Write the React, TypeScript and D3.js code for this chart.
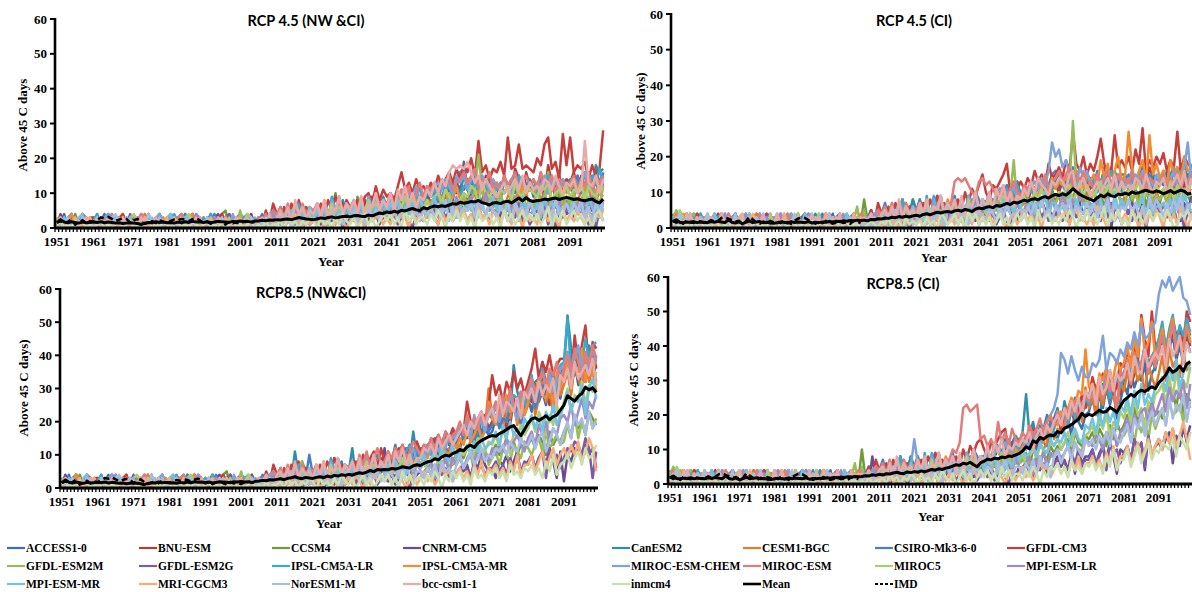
import React from 'react';
import * as d3 from 'd3';

const ALPHA = '0123456789abcdefghijklmnopqrstuvwxyzABCDEFGHIJKLMNOPQRSTUVWXYZ';
// each character is one yearly value (0-61 days): 0-9, a=10 ... z=35, A=36 ... Z=61
const dec = (s: string): number[] => s.replace(/\s+/g, '').split('').map(c => ALPHA.indexOf(c));

const FIRST_YEAR = 1951;
const N_YEARS = 150;
const YEAR_LABELS = ['1951', '1961', '1971', '1981', '1991', '2001', '2011', '2021', '2031', '2041', '2051', '2061', '2071', '2081', '2091'];
const Y_TICKS = [0, 10, 20, 30, 40, 50, 60];

const MODELS = ['ACCESS1-0', 'BNU-ESM', 'CCSM4', 'CNRM-CM5', 'CanESM2', 'CESM1-BGC', 'CSIRO-Mk3-6-0', 'GFDL-CM3',
  'GFDL-ESM2M', 'GFDL-ESM2G', 'IPSL-CM5A-LR', 'IPSL-CM5A-MR', 'MIROC-ESM-CHEM', 'MIROC-ESM', 'MIROC5', 'MPI-ESM-LR',
  'MPI-ESM-MR', 'MRI-CGCM3', 'NorESM1-M', 'bcc-csm1-1', 'inmcm4'];
const COLORS = ['#4070aa', '#b03f3c', '#739a3a', '#6a4c92', '#2f8ea8', '#e27c2c', '#4a7fc6', '#c73f3c',
  '#96bd57', '#7b5aa8', '#3ca8c9', '#f58b30', '#7fa3d8', '#e07c7a', '#abcd73', '#9f8cc6',
  '#72c3de', '#f9ac76', '#a9bde2', '#e6abaa', '#c9dfae'];

// historical runs 1951-2005 (shared by RCP4.5 and RCP8.5)
const HIST_NWCI = [
  '2140312032 0124103120 1031402130 2013412103 1203142401 21032',
  '1230412013 3012041231 2102310241 1302103420 2140312031 02130',
  '0312041231 2013102140 3102140312 0213021420 1203145012 30241',
  '1420312012 1030422301 2014031021 3012041023 0123412031 20140',
  '2031401301 2103412031 0210312042 1031241302 1240213012 43120',
  '3210401203 1201230140 1302412103 0210312412 0312013421 12031',
  '0213412031 2401302101 2031241320 1203120140 3124130213 40210',
  '1302130420 3102120341 2103012031 2413012031 2021341203 12031',
  '3021402102 1302301203 1031241310 2120413021 3021303120 51202',
  '0120312430 1201302031 4013102130 1203120412 0312013421 20130',
  '2013201230 2413012021 3012030120 1342130120 3041203102 13421',
  '1302412031 2030210312 0124310213 0120312413 0213012031 20120',
  '2130120312 0213412031 2031201342 1302130213 0120312041 30213',
  '1203102130 1203120213 0124312031 2013421302 1301203120 31202',
  '3120130213 0312031201 3421302120 3102134213 0213021302 12431',
  '0213021302 1203142130 2102130120 3120301243 1203130120 31201',
  '2031203412 0312013021 3012013021 3412031202 1302130213 02130',
  '1302130213 0120312031 2021302120 3021302130 2130213021 30120',
  '2013021302 1302134213 2013042130 2130213012 0312031203 12031',
  '0311202130 2210312031 1203021302 2031201213 0210312013 21302',
  '1201021201 0120101201 2010120102 1012010210 1201020120 10120',
];
const HIST_CI = [
  '2041312023 1203402131 0213201432 1120230314 2103124023 12031',
  '1320214031 2024130122 3102413021 1203320142 0312201341 20213',
  '0231203412 1302012340 2132010231 4021302123 0142031203 21401',
  '3102140231 0231203142 1032041203 1402130321 2031402130 23120',
  '1203320141 2302104213 2041203120 3214012032 1402312031 42031',
  '4210312032 1023410213 0321402130 2103214023 1203402131 02312',
  '0312403120 2140312031 1402301213 2031204123 0214031202 13410',
  '2103021432 0312140230 1203213402 1230412031 2130241032 01213',
  '2530214031 2031402130 2140231203 1402130213 2031240312 01260',
  '1023410320 1312032140 2013120341 2031021340 2102312041 30212',
  '3120213041 2013402132 0312041230 2140312013 4021302140 31203',
  '0214302130 4120312031 2403120213 0312403120 1321402130 20413',
  '2031402130 1241302130 2031204132 1203402131 2012403120 31421',
  '1402130213 2031204123 1302140213 2104123021 3120413021 30124',
  '2053120312 4012031203 4120312041 2031204130 2140312031 20132',
  '0321402130 2031240312 0413021302 1402130214 0312031204 13201',
  '3102140231 2041302130 2140213021 4031203141 2031203120 41320',
  '1230412031 2301402130 2104123021 3041203120 2130412031 20413',
  '2140312031 4021302140 3120314021 3102140213 0312041302 13021',
  '0312041302 1320413021 4031203120 4130213021 4031203140 21302',
  '1201102120 1021010210 2101201021 0120210110 2012101201 20110',
];

// projections 2006-2100
const RCP45_NWCI = [
  '21302 4162350326 3524163425 5362748354 6485a39576 8b69c7a58e 9jb8ca7db9 c8eb9fa7cd 9bd8gca9eb c9ebadf8cb',
  '13240 3526174352 4635274638 6473859476 7596b48a79 a8cb7e9bda cbe9gdafcb dafcbhe9gc ebgaidcfbe dgbfceahdf',
  '20314 2513624153 342635a425 4293625374 5364857462 6485739574 7596486a57 6475a58697 5796847a58 6587a59768',
  '12031 2314253124 2413524231 3524136425 4253645374 5364758463 4657386475 5376485736 6475386574 5386475738',
  '31425 3615274263 4527369584 5637485a69 6a7859b8c7 8c9ad7be9c afcbg9dbea c9ebdafcbe bdacfbeadc ecfbgdaigh',
  '20413 3142536241 3526143625 4637254736 5746385947 6857496a58 7968a57b69 8a69b7c8a6 7b8a6c9b79 8a7b9c68a9',
  '24135 3625471536 4736285947 5847396a58 6958a7b69c 8a9cb8dbae ghbecaf9dc bdacebfadc cbedaf9ceb dbfacebdag',
  '31527 4263728462 5374859673 64859a7c8b 9a8cgbdaeb cadbfcegdh eigkfpgieh gjfqhiohih gkioqhjeri qgihjeifhs',
  '12304 2413526314 3524163527 4635274638 3746a58475 5867496a58 6978blb796 7a58697b68 6b79g58c69 7a68b79a6c',
  '10213 1302413021 2130241302 2413052413 3241352043 2453163524 3524163425 4152637241 3526140536 4253614052',
  '31425 2536147253 4637295846 5748396a57 6859a7b68c 7a9b8cad9b 9cbadbecad bdacebfcad cadbfcebdc bedcgbfdhc',
  '20314 3425163542 3546274536 4657385a47 5768496a79 6879a8b79c 8a9cbad9bc 9bacbd9cab acbdacebca bdacbecadb',
  '23145 3526472635 4637385947 5748496a58 6859b7a9c8 9bacdbecaf dfbegcfdbe cbedafcebd bdcfaedbec cebdgcafde',
  '32415 4637253746 5748364857 6859475a68 7a68b9c7ad 9cbdaecfbd egdfhcedgb dbfcegbdfc ecgbdfaedc dfbecgbedf',
  '21304 2415362514 3526473625 4637584736 5748695847 6859a7b968 8a9cb7da9b 9bac8da9cb a9cbd8ab9c 9bad8ca9cb',
  '10324 2314253142 3425143526 3546254637 4657365748 5468376859 4579486a57 6847593764 5738462857 6473859476',
  '21031 3142531426 2536142537 3647253648 4758364759 5369475836 6475837469 5846372958 4739582647 5847396285',
  '10201 1302142031 2130241320 2413052341 3152430524 2463152436 3524063415 4253164052 3164253062 4253160435',
  '21302 2413024132 3241352413 3524163524 4352647352 5463748263 4657386475 3648275638 5374628457 4758362748',
  '23140 3526184635 4738265947 5849376a58 6a5b8c7a69 8b9daecgih ihjgdfbeca 9bdacebfad bcaedbfcad ceabpdcfae',
  '10201 1203120213 2031203142 1302413024 2413052413 3142530425 2413052341 3052413524 2413604251 3524130452',
];
const RCP45_CI = [
  '32413 4253615342 5364275463 6475386574 7586497a68 9a7cb8da9c dbfcegbdac cebdgacfbd dbfcehbdac ecgbdfhcei',
  '21430 3524163524 4635274635 5746385746 6857496857 8a7b9cad8b cadbfcgbed bdfcegcafb dbgcfadheb cfbdgcebfd',
  '82413 3524162538 4836253746 5374638475 4685739586 6795a8697b 7a69b8c79a 8b7a69c8a7 9a7b8c6a98 7b9a6c8a97',
  '13021 2413524132 3524135243 2435146253 4352637452 5463748563 4675385746 5386470648 6475381657 4738562749',
  '31524 4635263748 5746385947 6857496a58 7968b7ca8d 9bacdbeacf cgdfbhdcfe dbfcheagdf fcgdebhcfe dgcfhbeidg',
  '20413 3142536241 3526143627 4637254938 5746385a47 6857496b58 7968a5cb79 8a69b7c9a6 9b8a6c9b7a 8a7b9c69ab',
  '23514 4736258463 5847369574 6958476a85 7a69b8ca7d 9bacbdecaf gdfbegcdfb ecgbdfhcea cfdbegcfbd egcfbhdfcg',
  '31527 4263728462 5374859673 6485a7b9cf a8cbdfiacb dbecgdfcie fhejgrigkf igkpiegqhj hkgmisgjhk ilgjhrgkih',
  '51304 2413526314 3524163527 4635274638 57468a59j6 6867496a58 79a8cuc8a7 8a69b7c8a6 7b8a6c9b79 8a79b6c8a9',
  '12031 2130241302 1302413024 2413052413 3241352043 2453163524 3524163425 4152637241 3526140536 4253614052',
  '31425 3637148253 4739295846 5748396a57 6859a7b6ac 8a9b8dbe9c bdcaebfdce ceadfbgdbe dbecgbfdce cfdbhcgeci',
  '20314 3425163542 4546274938 5657385a48 6768496b7a 8a9cb8dbae bdcfaegdbf dfcjeibgkd frhcgjdqfi egcjfhdkgf',
  '23145 3526472635 4637385947 5748496a58 6a59b7a9c8 9bacdbecgo kmhjfgcheg dbfcegcafd cebfdgbecf dfbegcahod',
  '32415 4637253746 5748364857 7dedeca9de cdb9ac8bda 9cbdaecfbd egdfhcedgb dbfcegbdfc ecgbdfaedc dfbecgbedf',
  '12403 3524152614 2637465236 5746384726 4857596748 7968a8b869 9a8bc7ad9c a9bd8cab9d 9acbd7ba9c ab9d8cab9d',
  '01342 1324352413 2435214362 4536245736 5647356847 4586377968 5697485a76 7584695837 6847352968 5748396574',
  '12301 2413524136 3425136247 4536274638 5647385749 6358476a37 7564938576 6748372a58 5847693746 6758493a65',
  '01210 2031203142 1302413021 3142031524 2413520341 3524130452 2435146231 3164205342 4253061425 3052416304',
  '12031 3142530241 2431524305 4253614352 3542637425 5364738452 6475836547 4736582746 5847362958 6374859367',
  '32410 4526183645 3748265947 5849376a58 6a5b8c7a69 8b9daecb9d cedbfgaceb 9bdacebfad bcaedbfcad ceabdfcgae',
  '01210 2130120312 1203120431 2413052413 1302413024 2413052341 3142530425 2413604251 3052413524 4253014352',
];
const RCP85_NWCI = [
  '21423 3524163425 4635274536 5748396758 7a69b8c7a9 a8cbdaecbf ecgfhdjfig hlkimjqkno rnuqtpwsvr xAtCvzwEyB',
  '13240 4526173542 3645285647 6758497a69 8b79ca8dbc cadbfcegdh fhgjeikgmi kmjpilrnlq sqvrxtpwuy zDwBFyCxHA',
  '20314 2513624853 3426253647 4354637485 5647586a57 6859a7b869 8a9cb7dab9 bdacfbeadc dfcgeahdfe hjfmikgnlj',
  '12031 2314283124 2413524231 3524136425 c253645374 5364758463 4657386a75 6387a58b47 8a69b7c83b 2a8cb9dac6',
  '31425 36152b4263 4527369584 5c374859a6 7a8d69b8h9 cadbfcegdh gifkhjeljm lpkormBtqn uswxCvsyuz AQGyDFwHCE',
  '20413 3142536241 3526143625 4637254736 5746385947 7968a8b9c7 bdacegcfiu mkoinlqjpm pumrwqtnvs vzsBxuDwAt',
  '24135 362547153a 4736285947 5847396a58 7958a7b69c 9bacbdecaf dhfigejgkh jmilkoqnjp qtosvrxpuw yCvAzDxFBw',
  '31527 4263728462 5374859673 6485a79b6c 8a9cbdac9e bdcfegdhfi gjhqkilnjp ysvqwtzuxs wAGxCzEyBD DFyKBHNAIG',
  '12304 2413526814 3524163527 4635274638 5746385a47 6857496a58 7968a5b8c7 9b7ca8db9e cadfbhcegd ejgmfkhnil',
  '10213 1302413021 2130241302 2413052413 3241352043 3564274635 4675385746 6857496a58 7a69b3c8a6 9cbedafc3b',
  '31425 2536147253 4637295846 5748396a57 6859a7bd8c 9bdacfbegd fjhlgkimjo mqlponsrtp tyrvAuzxsB CPzGEBJDHI',
  '20314 3425163542 3546274536 4657385a47 5768496a79 7a9cb8dbae cfdhegjfhq ljpmsnokrm qvtxsrwpzu xCvAzGwDyE',
  '23145 3526472635 4637385947 5748496a58 6a59b7a9c8 9bacdbecgf gjhkfmilhn mpkqnsoltr sxqvzuytwA BFyDHAEzGC',
  '32415 4637253746 5748364857 685a7b69c7 8b9cad8bec adcfbgdheg hkgmjlinkp nqmsoupqtr uxtwzvAyCw AEzGCxFBHD',
  '21304 2415362514 3526473625 4637584736 5748695847 6859a7b968 9bacdafcbe dgcieahfjg ilhnkgmjpl qunsrwpvtz',
  '10324 2314253142 3425143526 3546254637 4657365748 5468376959 7a69b8c9a8 cadbfcegdb fhdjgkeigl mkpjnrlqos',
  '21031 3142531426 2536142537 3647253648 4758364759 6a79b8ca8d 9cbdaebfcd ehdjfkgiel jmilhnkpjm ptnrqvmuxr',
  '01210 2031203142 1302413021 3142031524 2413520341 3524136452 4635274836 5746385a47 7a58b69c7a c9dae8bfc5',
  '12031 3142530241 2431524305 4253614352 3542637425 5364738562 7a68b79c8a 9cbdaecbfd dgcfhbeigd hkfmjlgnik',
  '32410 4526183645 3748265947 5849376a58 6a5b8c7a69 9cbdafcegd fhjgkilnjm oksmqpnrlt ruqwsvtxpy wAuCxzByDv',
  '10201 1203120213 2031203142 1302413024 2413052413 3142530425 3524163425 4635274536 5746385a47 8a69b7c9ad',
];
const RCP85_CI = [
  '32413 4253615342 5364275463 6475386574 7586497a68 a8cbdaecbf fdhgjeligk lpkqmsnrjo tqxsvuzrwy BFyDHAEzGC',
  '21430 3524163524 4635274635 5746385746 7968a7b9c8 bdacfbegdi hkgmjlinkp oqmsnvrptq uyswAvCxzB DHAFJCGBIE',
  'a2413 3524162538 4836253746 5374638475 4685739586 6795a8697b 9bacdafcbe dfcgebhdif hkgmilfnjk ljpnrmtkqo',
  '13081 2413524132 3524135243 2435146253 4352637452 5463748563 6857493a68 8a69b7c83a 9b7dac4e8b cadf6ebgdh',
  '31524 4635263748 5746385947 6857496a58 8a7cb9dbce cfqeidhgki jmhoklpinq pushtqwrvs wAtCyvEzBx DJAGLFIDKH',
  '20413 3142536241 3526143625 4637254938 5746385a47 7968a8bacj dgfjhlkois mpkrntoqlu rwtyuxqzvs wBuDyAvCxz',
  '23514 4736258463 5847369574 6958476a85 7a69b8ca7d acbedfcgei gkilhnjmko nrptqvosuw vAxCyzEwBD FJCHLEIGKF',
  '31527 4263728462 5374859673 6485a7b9cd a8cbdfgacb dbecgdfchf hkgmjonlqm pvrtwsxquz yCAEzNGBOD GKDIMHJEOL',
  '51304 2413526314 3524163527 4635274638 5746385a47 6857496a58 8a79b8c9ad cbedafcgbe eghcifjdkg jmhoklnipm',
  '12031 2130241302 1302413024 2413052413 3241352043 3564274635 5786496a57 7a68b4c9a6 9b7dac5e8b dbfcgaehcf',
  '31425 3637148253 4739295846 5748396a57 6859a7bd8c 9bdacfbegd glikhnjolp nsqurwptvs vAxCzyEwBD GLDJNFKHMI',
  '20314 3425163542 4546274938 5657385a48 6768496b7a 9bacbdecgf ihlkmpnrqD stqwuyrvAx zEyGBMCFLA EJBHMCGDKF',
  '23145 3526472635 d637385947 6858496a68 7a69b8ca9d bdacfcegik mqCAwBxuyv vzyAHxCBzD BFDIEKGHJL TXVYUWYSRN',
  '32415 4637253746 5748364857 7a9cmnlmnd ebdaicfbgd cfdhegjfik hligmkojnq oqnspvrtmx vAtCxzEwBy DHzFKCGEJI',
  '21304 2415362514 3526473625 4637584736 5748695847 7968a8ba9c bdacfbgdce fhdjgkeigl jnhpkmgolq rtnvpxqusy',
  '10324 2314253142 3425143526 3546254637 4657365748 5468376959 8a79b9ca8d cbedafcgbf gjfkhlmiok nqlsorpumt',
  '21031 3142531426 2536142537 3647253648 4758364759 7a89b8ca9d bdcfaegdch gjfkhmilgn lpkrmtnqos tvryuAswzx',
  '01210 2031203142 1302413021 3142031524 2413520341 3524136452 4635274836 6857496b58 8b69c7ad9b dafcgbeid7',
  '12031 3142530241 2431524305 4253614352 3542637425 5364738562 8a69b7ca8d bdaecfbgdc fhcjgkeilh kmhpjnlqio',
  '32410 4526183645 3748265947 5849376a58 7b6c9d8bac bdcfaegdhf ikhmjolpkr ptnvqsxrwu vzuBxwDyAC AEyGBDHzFC',
  '10201 1203120213 2031203142 1302413024 2413052413 3142530425 4635274536 5746385a47 7a58b69c7a 9cbad8ecaf',
];

const MEAN_HIST_NWCI = [1.6, 2.4, 1.7, 1.5, 1.8, 1.6, 1.4, 1.7, 1.5, 1.6,
  1.7, 1.6, 1.8, 1.5, 1.7, 1.6, 1.4, 1.5, 1.3, 1.4,
  1.5, 1.4, 1.3, 1.0, 1.4, 1.6, 1.5, 1.8, 1.6, 1.7,
  1.5, 1.6, 1.4, 1.7, 1.5, 1.8, 1.6, 1.9, 1.7, 1.8,
  1.6, 1.8, 1.5, 1.7, 1.9, 1.8, 1.7, 1.6, 1.9, 1.8,
  2.0, 1.8, 1.9, 1.7, 2.0];
const MEAN_HIST_CI = [1.8, 2.3, 1.6, 1.5, 1.7, 1.6, 1.8, 1.5, 1.7, 1.6,
  1.5, 1.8, 1.6, 1.9, 1.7, 1.5, 2.3, 1.6, 1.4, 1.7,
  1.2, 1.6, 2.0, 1.5, 1.7, 1.8, 1.5, 1.6, 1.4, 1.3,
  1.5, 1.7, 1.6, 1.4, 1.8, 1.5, 1.7, 1.6, 1.5, 1.8,
  1.4, 1.6, 1.5, 1.7, 1.6, 1.8, 1.7, 1.9, 1.8, 2.0,
  1.9, 2.1, 2.0, 2.2, 2.1];
const MEAN_RCP45_NWCI = [2.0, 2.2, 2.1, 2.3, 2.2,
  2.4, 2.3, 2.5, 2.6, 2.4, 2.7, 3.0, 2.8, 2.6, 2.5,
  2.4, 2.6, 2.9, 2.7, 3.0, 3.2, 2.9, 3.1, 3.3, 3.4,
  3.2, 3.5, 3.6, 3.4, 3.3, 3.7, 3.5, 3.9, 4.3, 4.1,
  4.6, 4.4, 4.8, 4.5, 5.1, 4.9, 5.3, 5.6, 5.2, 5.0,
  5.8, 5.5, 6.0, 6.3, 6.1, 6.4, 6.2, 6.6, 7.0, 6.8,
  7.4, 7.1, 7.3, 7.6, 7.5, 7.9, 7.3, 7.0, 6.6, 7.2,
  7.3, 7.0, 7.5, 7.7, 7.2, 7.9, 8.6, 7.8, 8.7, 7.9,
  7.6, 7.9, 8.0, 8.3, 8.1, 8.4, 8.6, 8.2, 8.5, 8.8,
  8.5, 8.2, 8.4, 8.0, 7.8, 8.1, 8.3, 7.6, 7.2, 8.3];
const MEAN_RCP45_CI = [2.2, 2.0, 2.4, 2.3, 2.6,
  2.5, 2.8, 2.7, 3.0, 2.9, 3.2, 3.0, 3.3, 3.1, 3.4,
  3.6, 3.3, 3.8, 4.0, 3.7, 4.1, 4.4, 4.2, 4.5, 4.6,
  4.4, 4.8, 5.0, 4.7, 5.2, 5.0, 4.6, 5.3, 5.6, 5.4,
  5.8, 6.0, 5.7, 6.3, 6.1, 6.5, 6.9, 6.6, 7.2, 7.0,
  7.4, 7.8, 7.5, 8.0, 8.2, 7.9, 8.5, 8.8, 8.4, 9.0,
  9.4, 9.1, 9.6, 9.2, 10.0, 11.0, 10.2, 9.4, 8.9, 8.4,
  8.0, 7.6, 8.5, 9.2, 8.7, 9.6, 9.0, 8.8, 9.5, 9.3,
  9.8, 9.4, 10.1, 9.7, 9.9, 10.3, 10.6, 10.2, 10.0, 10.4,
  10.1, 9.6, 10.0, 10.5, 9.8, 10.2, 10.6, 10.3, 9.5, 9.8];
const MEAN_RCP85_NWCI = [2.1, 2.3, 2.2, 2.5, 2.4,
  2.6, 2.8, 2.5, 2.9, 3.1, 3.4, 3.0, 2.8, 3.2, 3.0,
  2.9, 3.2, 3.4, 3.1, 3.6, 3.3, 3.8, 3.6, 4.0, 3.8,
  4.1, 3.9, 4.3, 4.6, 4.4, 4.8, 5.3, 4.9, 5.6, 5.4,
  5.6, 5.5, 5.9, 5.7, 6.0, 6.4, 6.2, 6.0, 6.7, 7.0,
  6.8, 7.4, 7.9, 8.1, 8.8, 8.5, 9.4, 9.9, 9.6, 10.4,
  10.8, 11.6, 11.2, 12.4, 12.9, 12.2, 13.6, 14.3, 14.9, 15.4,
  15.8, 15.6, 16.4, 16.9, 17.6, 18.4, 18.8, 17.2, 15.8, 17.6,
  19.5, 20.8, 21.2, 20.4, 21.0, 21.8, 20.6, 21.5, 22.0, 23.5,
  25.0, 27.8, 27.0, 26.2, 27.6, 28.5, 30.4, 29.6, 30.2, 28.8];
const MEAN_RCP85_CI = [2.2, 2.4, 2.3, 2.7, 2.5,
  2.8, 2.6, 3.0, 2.9, 3.2, 3.4, 3.1, 3.0, 3.5, 3.3,
  3.6, 3.4, 3.8, 3.5, 3.9, 4.2, 4.0, 4.4, 4.2, 4.6,
  4.8, 5.2, 5.6, 5.4, 6.0, 5.8, 6.3, 5.6, 5.0, 6.2,
  6.6, 7.2, 7.0, 7.5, 7.3, 7.8, 7.6, 8.1, 8.0, 8.4,
  8.8, 9.6, 10.8, 10.2, 12.5, 12.0, 13.5, 13.0, 13.8, 14.2,
  14.0, 15.2, 14.8, 16.2, 16.6, 17.2, 18.0, 18.8, 20.5, 19.6,
  20.2, 19.8, 20.6, 21.4, 20.8, 21.0, 22.2, 21.6, 20.8, 22.6,
  24.2, 25.0, 26.0, 25.4, 26.6, 27.2, 26.8, 27.5, 28.2, 27.6,
  29.4, 30.4, 31.6, 33.6, 32.4, 33.0, 34.2, 32.7, 34.8, 35.5];

// IMD observations 1951-2005
const IMD_NWCI = [1.5, 2.0, 1.2, 1.8, 2.5, 1.0, 1.6, 2.2, 1.4, 2.0,
  1.8, 2.4, 3.0, 2.8, 3.2, 2.6, 2.0, 2.4, 2.8, 2.6,
  1.5, 2.2, 2.6, 1.8, 1.2, 1.6, 2.0, 1.4, 2.2, 1.8,
  1.6, 2.0, 2.4, 2.2, 2.6, 2.4, 2.0, 2.5, 2.8, 2.2,
  1.4, 1.8, 1.2, 1.6, 2.0, 1.5, 1.0, 1.8, 1.4, 1.6,
  1.2, 1.8, 2.0, 1.5, 1.8];
const IMD_CI = [2.0, 1.5, 1.8, 1.2, 2.2, 1.6, 1.4, 2.0, 1.8, 1.5,
  1.6, 2.2, 1.8, 2.0, 2.8, 3.0, 2.6, 2.2, 1.8, 2.0,
  1.4, 1.8, 3.2, 2.4, 1.6, 1.2, 1.8, 1.5, 2.0, 1.6,
  1.8, 1.4, 2.2, 1.6, 1.2, 2.0, 2.6, 3.0, 2.8, 2.2,
  1.6, 1.2, 1.8, 1.4, 2.0, 1.6, 1.2, 1.5, 1.8, 1.4,
  1.6, 1.2, 2.0, 1.8, 1.4];

const TITLES = ['RCP 4.5 (NW &CI)', 'RCP 4.5 (CI)', 'RCP8.5 (NW&CI)', 'RCP8.5 (CI)'];
const Y_TITLES = ['Above 45 C days', 'Above 45 C days)', 'Above 45 C days)', 'Above 45 C days'];

const PANEL_DATA = [
  { hist: HIST_NWCI, proj: RCP45_NWCI, meanH: MEAN_HIST_NWCI, meanP: MEAN_RCP45_NWCI, imd: IMD_NWCI },
  { hist: HIST_CI, proj: RCP45_CI, meanH: MEAN_HIST_CI, meanP: MEAN_RCP45_CI, imd: IMD_CI },
  { hist: HIST_NWCI, proj: RCP85_NWCI, meanH: MEAN_HIST_NWCI, meanP: MEAN_RCP85_NWCI, imd: IMD_NWCI },
  { hist: HIST_CI, proj: RCP85_CI, meanH: MEAN_HIST_CI, meanP: MEAN_RCP85_CI, imd: IMD_CI },
];

const LAYOUT = [
  { left: 55, right: 605, top: 19, bottom: 228, titleX: 306, titleY: 26, yearX: 331, yearY: 266, ytX: 22, ytY: 125 },
  { left: 671, right: 1193, top: 14, bottom: 228, titleX: 914, titleY: 26, yearX: 934, yearY: 262, ytX: 640, ytY: 121 },
  { left: 60, right: 598, top: 289, bottom: 488, titleX: 311, titleY: 298, yearX: 329, yearY: 528, ytX: 23, ytY: 388 },
  { left: 668, right: 1192, top: 277, bottom: 484, titleX: 903, titleY: 289, yearX: 931, yearY: 521, ytX: 633, ytY: 380 },
];

const SERIF = "'Liberation Serif','Times New Roman',Times,serif";
const SANS = "Lato,'Open Sans','Noto Sans',Arial,sans-serif";

const YEARS = Array.from({ length: N_YEARS }, (_, i) => FIRST_YEAR + i);

function Panel({ idx }: { idx: number }) {
  const L = LAYOUT[idx];
  const D = PANEL_DATA[idx];
  const x = d3.scaleBand<number>().domain(YEARS).range([L.left, L.right]).padding(0);
  const y = d3.scaleLinear().domain([0, 60]).range([L.bottom, L.top]);
  const cx = (i: number) => (x(YEARS[i]) as number) + x.bandwidth() / 2;
  const line = d3.line<number>().x((_, i) => cx(i)).y(v => y(Math.min(v, 60)));

  const models = D.hist.map((h, k) => dec(h).concat(dec(D.proj[k])));
  const mean = D.meanH.concat(D.meanP);

  return (
    <g>
      {models.map((vals, k) => (
        <path key={k} d={line(vals) || ''} fill="none" stroke={COLORS[k]} strokeWidth={2.5} strokeLinejoin="round" />
      ))}
      <path d={line(mean) || ''} fill="none" stroke="#000" strokeWidth={3} strokeLinejoin="round" />
      <path d={line(D.imd) || ''} fill="none" stroke="#000" strokeWidth={2.5} strokeDasharray="6,4" />

      {/* y axis */}
      <line x1={L.left} x2={L.left} y1={y(60) - 1} y2={L.bottom + 1} stroke="#000" strokeWidth={2.6} />
      {Y_TICKS.map(t => (
        <g key={t}>
          <line x1={L.left - 5} x2={L.left} y1={y(t)} y2={y(t)} stroke="#000" strokeWidth={2} />
          <text x={L.left - 8} y={y(t)} dy="0.35em" textAnchor="end" fontFamily={SERIF} fontWeight="bold" fontSize={13}>{t}</text>
        </g>
      ))}
      {/* x axis */}
      {YEARS.map(yr => (
        <line key={yr} x1={x(yr) as number} x2={x(yr) as number} y1={L.bottom} y2={L.bottom + 4} stroke="#000" strokeWidth={1.3} />
      ))}
      <line x1={L.left} x2={L.right} y1={L.bottom} y2={L.bottom} stroke="#000" strokeWidth={3} />
      {YEAR_LABELS.map(lb => (
        <text key={lb} x={cx(YEARS.indexOf(+lb))} y={L.bottom + 18} textAnchor="middle" fontFamily={SERIF} fontWeight="bold" fontSize={13}>{lb}</text>
      ))}
      <text x={L.yearX} y={L.yearY} textAnchor="middle" fontFamily={SERIF} fontWeight="bold" fontSize={13}>Year</text>
      <text transform={`translate(${L.ytX},${L.ytY}) rotate(-90)`} textAnchor="middle" dy="0.35em" fontFamily={SERIF} fontWeight="bold" fontSize={13}>{Y_TITLES[idx]}</text>
      <text x={L.titleX} y={L.titleY} textAnchor="middle" fontFamily={SANS} fontWeight="bold" fontSize={14.5}>{TITLES[idx]}</text>
    </g>
  );
}

const LEG_X = [7, 139, 272, 403, 612, 743, 875, 1007];
const LEG_Y = [548, 566, 584];

function Legend() {
  const items = MODELS.map((m, k) => ({ name: m, color: COLORS[k], dash: '', w: 2.2 }))
    .concat([{ name: 'Mean', color: '#000', dash: '', w: 2.6 }, { name: 'IMD', color: '#000', dash: '3,2', w: 2 }]);
  return (
    <g>
      {items.map((it, i) => {
        const x0 = LEG_X[i % 8];
        const yy = LEG_Y[Math.floor(i / 8)];
        return (
          <g key={it.name}>
            <line x1={x0} x2={x0 + 18} y1={yy} y2={yy} stroke={it.color} strokeWidth={it.w} strokeDasharray={it.dash || undefined} />
            <text x={x0 + 19} y={yy} dy="0.35em" fontFamily={SERIF} fontWeight="bold" fontSize={11.5}>{it.name}</text>
          </g>
        );
      })}
    </g>
  );
}

export default function App() {
  return (
    <svg width={1192} height={592} viewBox="0 0 1192 592" style={{ position: 'absolute', left: 0, top: 0, background: '#fff' }}>
      <rect x={0} y={0} width={1192} height={592} fill="#fff" />
      {[0, 1, 2, 3].map(i => <Panel key={i} idx={i} />)}
      <Legend />
    </svg>
  );
}
